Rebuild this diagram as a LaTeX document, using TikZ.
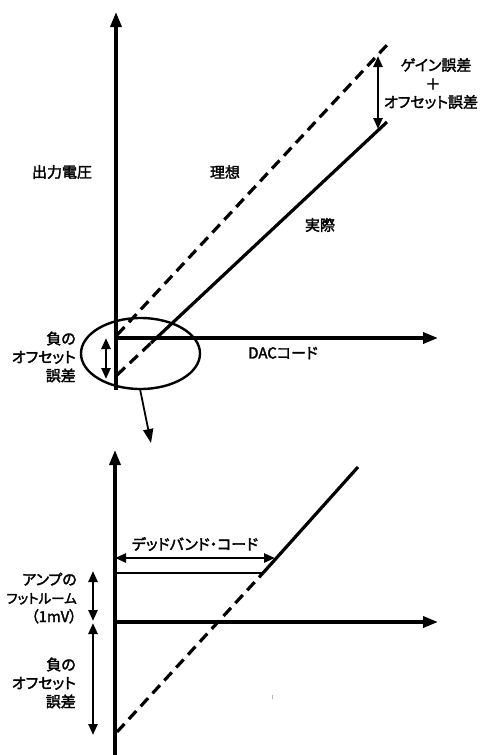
\documentclass[tikz,border=0pt]{standalone}
\usepackage{fontspec}
\setmainfont{Noto Sans CJK JP}[RawFeature={+palt},FakeBold=2.2]
\usetikzlibrary{arrows.meta,shapes.geometric}
\begin{document}
\begin{tikzpicture}[x=1pt,y=-1pt,
  axis/.style={line width=3.4pt,-{Triangle[length=15pt,width=11pt]}},
  curve/.style={line width=3.2pt},
  dashcurve/.style={line width=3.2pt,dash pattern=on 11pt off 6.5pt},
  dim/.style={line width=2.4pt,{Triangle[length=11pt,width=9pt]}-{Triangle[length=11pt,width=9pt]}},
  lbl/.style={font=\fontsize{15}{18.5}\selectfont,inner sep=0pt},
  lblr/.style={lbl,anchor=east,align=right}]
\useasboundingbox (0,0) rectangle (481,755);
% ---------- top graph ----------
\coordinate (vb) at (116,390);
\coordinate (vt) at (116,12);
\coordinate (o1) at (116,338);
\coordinate (hx) at (438,338);
\draw[axis] (vb) -- (vt);
\draw[axis] (o1) -- (hx);
\coordinate (ia) at (117,335);
\coordinate (ib) at (387,45);
\draw[dashcurve] (ia) -- (ib);
\coordinate (aa) at (117,375);
\coordinate (am) at (151,343);
\coordinate (ab) at (387,122);
\draw[dashcurve] (aa) -- (am);
\draw[curve] (am) -- (ab);
\coordinate (g1) at (378,56);
\coordinate (g2) at (378,129);
\draw[dim] (g1) -- (g2);
\coordinate (n1) at (106,338);
\coordinate (n2) at (106,379);
\draw[dim] (n1) -- (n2);
\node[draw,line width=2.4pt,ellipse,minimum width=119pt,minimum height=71pt,inner sep=0pt] (ell) at (140.5,353.5) {};
\coordinate (zs) at (140,389);
\coordinate (zt) at (151,443);
\draw[line width=1.8pt,-{Triangle[length=14pt,width=10pt]}] (zs) -- (zt);
\node[lbl] (outv) at (62,172) {出力電圧};
\node[lbl] (ideal) at (225,172) {理想};
\node[lbl] (act) at (320,225) {実際};
\node[lbl] (dac) at (283,353) {DACコード};
\node[lbl] (gain) at (436,65) {ゲイン誤差};
\node[lbl] (plus) at (433,84) {＋};
\node[lbl] (offs) at (431,102) {オフセット誤差};
\node[lblr] (neg1) at (76,357) {負の\\オフセット\\誤差};
% ---------- bottom graph ----------
\coordinate (wb) at (115,755);
\coordinate (wt) at (115,450);
\coordinate (o2) at (115,622);
\coordinate (wx) at (438,622);
\draw[axis] (wb) -- (wt);
\draw[axis] (o2) -- (wx);
\coordinate (db0) at (115,573);
\coordinate (db1) at (263,573);
\coordinate (top2) at (358,467);
\coordinate (low2) at (117,732);
\draw[line width=2.6pt] (db0) -- (db1);
\draw[curve] (db1) -- (top2);
\draw[dashcurve] (low2) -- (db1);
\coordinate (da) at (115,558);
\coordinate (dbb) at (275,558);
\draw[dim] (da) -- (dbb);
\node[lbl] (dead) at (195,544) {デッドバンド・コード};
\coordinate (h1) at (93,571);
\coordinate (h2) at (93,621);
\coordinate (h3) at (93,623);
\coordinate (h4) at (93,735);
\draw[dim] (h1) -- (h2);
\draw[dim] (h3) -- (h4);
\node[lblr] (foot) at (77,598) {アンプの\\{\fontsize{13.5}{18.5}\selectfont フットルーム}\\（1mV）};
\node[lblr] (neg2) at (76,683) {負の\\オフセット\\誤差};
\coordinate (m1) at (272,695);
\coordinate (m2) at (272,699);
\draw[gray!60,line width=1pt] (m1) -- (m2);
\end{tikzpicture}
\end{document}
